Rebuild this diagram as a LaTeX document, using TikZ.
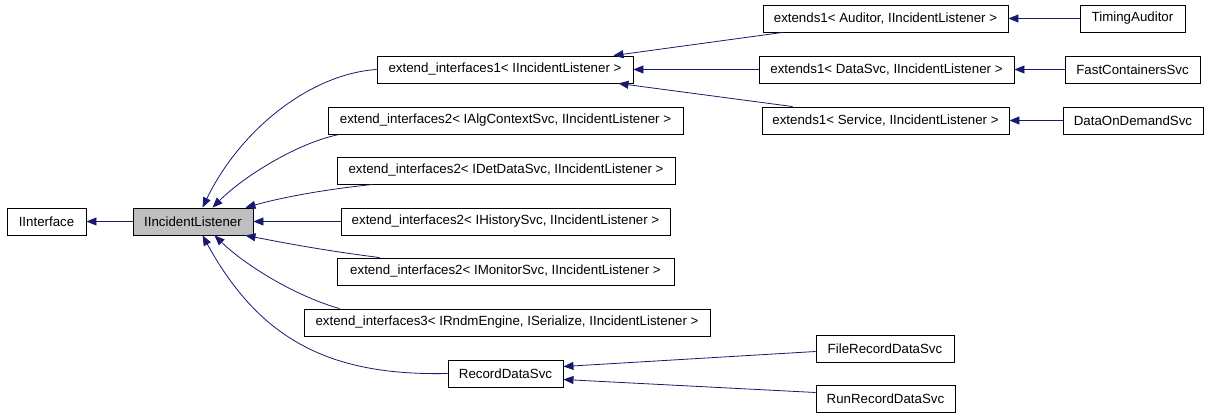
\documentclass[tikz,border=0pt]{standalone}
\usepackage{fontspec}
\setmainfont{Liberation Sans}
\usetikzlibrary{arrows.meta}
\definecolor{edgeblue}{HTML}{191970}
\definecolor{hilite}{HTML}{BFBFBF}
\tikzset{
  cls/.style={draw=black, line width=0.9pt, fill=white, inner sep=0pt, minimum height=27pt,
    font=\fontsize{13.3}{16}\selectfont, anchor=center},
  hl/.style={cls, fill=hilite},
  inh/.style={draw=edgeblue, line width=0.8pt, -{Triangle[length=10pt,width=8pt]}},
}
\begin{document}
\begin{tikzpicture}[x=1pt,y=-1pt]
\path[use as bounding box, fill=white] (0,0) rectangle (1208,417);
% left column
\node[cls, minimum width=79pt] (iif) at (46.5,221.5) {IInterface};
\node[hl, minimum width=120pt] (iil) at (193,221.5) {IIncidentListener};
% middle column
\node[cls, minimum width=256pt] (ei1) at (505,69.5) {extend\_interfaces1< IIncidentListener >};
\node[cls, minimum width=355pt] (ei2a) at (505.5,120.5) {extend\_interfaces2< IAlgContextSvc, IIncidentListener >};
\node[cls, minimum width=338pt] (ei2d) at (506,170.5) {extend\_interfaces2< IDetDataSvc, IIncidentListener >};
\node[cls, minimum width=329pt] (ei2h) at (505.5,221.5) {extend\_interfaces2< IHistorySvc, IIncidentListener >};
\node[cls, minimum width=337pt] (ei2m) at (505.5,271.5) {extend\_interfaces2< IMonitorSvc, IIncidentListener >};
\node[cls, minimum width=406pt] (ei3) at (507,322.5) {extend\_interfaces3< IRndmEngine, ISerialize, IIncidentListener >};
\node[cls, minimum width=115pt] (rds) at (505.5,373.5) {RecordDataSvc};
% extends1 column
\node[cls, minimum width=245pt] (e1a) at (885.5,18.5) {extends1< Auditor, IIncidentListener >};
\node[cls, minimum width=255pt] (e1d) at (886.5,69.5) {extends1< DataSvc, IIncidentListener >};
\node[cls, minimum width=247pt] (e1s) at (885.5,120.5) {extends1< Service, IIncidentListener >};
\node[cls, minimum width=138pt] (frds) at (885,348.5) {FileRecordDataSvc};
\node[cls, minimum width=139pt] (rrds) at (885.5,398.5) {RunRecordDataSvc};
% right column
\node[cls, minimum width=105pt] (ta) at (1132.5,18.5) {TimingAuditor};
\node[cls, minimum width=135pt] (fc) at (1132.5,69.5) {FastContainersSvc};
\node[cls, minimum width=140pt] (dod) at (1133,120.5) {DataOnDemandSvc};
% edges
\draw[inh] (iil.west) -- (iif.east);
\draw[inh] (ei1.west) .. controls (310,74) and (240,130) .. ([xshift=70pt]iil.north west);
\draw[inh] ([xshift=12pt]ei2a.south west) .. controls (300,142) and (245,175) .. ([xshift=80pt]iil.north west);
\draw[inh] ([xshift=36pt]ei2d.south west) .. controls (320,190) and (280,198) .. ([xshift=-8pt]iil.north east);
\draw[inh] (ei2h.west) -- (iil.east);
\draw[inh] ([xshift=43pt]ei2m.north west) .. controls (320,250) and (280,242) .. ([xshift=-8pt]iil.south east);
\draw[inh] ([xshift=36pt]ei3.north west) .. controls (295,296) and (245,265) .. ([xshift=82pt]iil.south west);
\draw[inh] (rds.west) .. controls (330,376) and (260,340) .. ([xshift=70pt]iil.south west);
\draw[inh] ([xshift=20pt]e1a.south west) -- ([xshift=-20pt]ei1.north east);
\draw[inh] (e1d.west) -- (ei1.east);
\draw[inh] ([xshift=31pt]e1s.north west) -- ([xshift=-15pt]ei1.south east);
\draw[inh] (ta.west) -- (e1a.east);
\draw[inh] (fc.west) -- (e1d.east);
\draw[inh] (dod.west) -- (e1s.east);
\draw[inh] ([yshift=-3pt]frds.west) -- ([yshift=7pt]rds.east);
\draw[inh] ([yshift=6pt]rrds.west) -- ([yshift=-6pt]rds.east);
\end{tikzpicture}
\end{document}
